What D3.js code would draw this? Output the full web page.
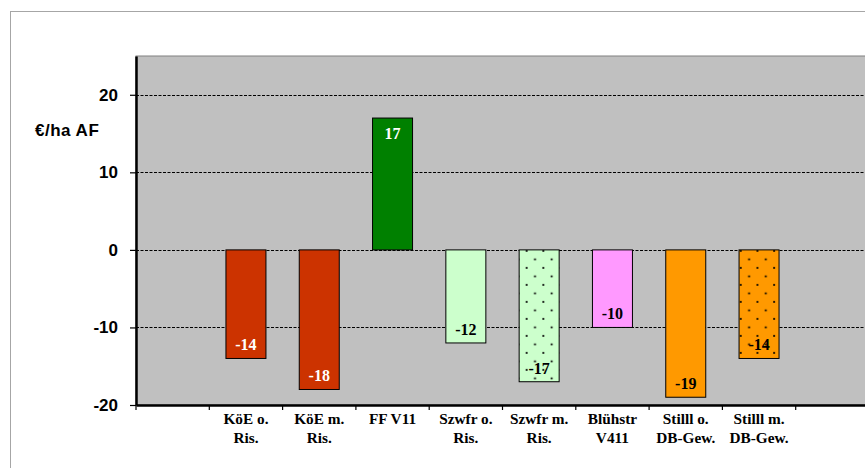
<!DOCTYPE html>
<html>
<head>
<meta charset="utf-8">
<script src="https://cdn.jsdelivr.net/npm/d3@7"></script>
<style>
  html, body { margin: 0; padding: 0; background: #fff; }
  svg { display: block; }
</style>
</head>
<body>
<svg id="chart" width="865" height="468"></svg>
<script>
// ---- data ----
const categories = ["", "KöE o.|Ris.", "KöE m.|Ris.", "FF V11", "Szwfr o.|Ris.", "Szwfr m.|Ris.", "Blühstr|V411", "Stilll o.|DB-Gew.", "Stilll m.|DB-Gew.", " "];
const barCategories = ["KöE o.|Ris.", "KöE m.|Ris.", "FF V11", "Szwfr o.|Ris.", "Szwfr m.|Ris.", "Blühstr|V411", "Stilll o.|DB-Gew.", "Stilll m.|DB-Gew."];
const values = [-14, -18, 17, -12, -17, -10, -19, -14];
const fills = ["#cc3300", "#cc3300", "#008000", "#ccffcc", "#ccffcc", "#ff99ff", "#ff9900", "#ff9900"];
const dotted = [false, false, false, false, true, false, false, true];
const labelColors = ["#fff", "#fff", "#fff", "#000", "#000", "#000", "#000", "#000"];
const yTicks = [-20, -10, 0, 10, 20];
const yDomain = [-20, 25];
const yTitle = "€/ha AF";

// ---- layout ----
const svg = d3.select("#chart");
const plot = { left: 136, right: 869, top: 56, bottom: 405 };

const x = d3.scaleBand().domain(categories).range([plot.left, plot.right]).paddingInner(0).paddingOuter(0);
const y = d3.scaleLinear().domain(yDomain).range([plot.bottom, plot.top]);
const barW = 40;

// outer frame
svg.append("rect").attr("x", 10.5).attr("y", 11.5).attr("width", 900).attr("height", 500)
  .attr("fill", "#fff").attr("stroke", "#a6a6a6").attr("stroke-width", 1);

// plot background
svg.append("rect").attr("x", plot.left).attr("y", plot.top)
  .attr("width", plot.right - plot.left + 10).attr("height", plot.bottom - plot.top)
  .attr("fill", "#c0c0c0").attr("stroke", "#808080").attr("stroke-width", 1);

// patterns
const defs = svg.append("defs");
barCategories.forEach((c, i) => {
  if (!dotted[i]) return;
  const bx = x(c) + (x.bandwidth() - barW) / 2;
  const p = defs.append("pattern").attr("id", "dots" + i)
    .attr("patternUnits", "userSpaceOnUse")
    .attr("x", bx + (i === 4 ? 7.5 : 1.7)).attr("y", y(0) + 1)
    .attr("width", 16.7).attr("height", 17);
  p.append("rect").attr("width", 16.7).attr("height", 17).attr("fill", fills[i]);
  [[0, 0], [8.35, 8.5], [16.7, 0], [0, 17], [16.7, 17]].forEach(([dx, dy]) => {
    p.append("rect").attr("x", dx - 0.9).attr("y", dy - 0.9).attr("width", 1.8).attr("height", 1.8).attr("fill", "#000");
  });
});

// gridlines
svg.append("g").selectAll("line").data(yTicks.filter(t => t > yDomain[0]))
  .join("line")
  .attr("x1", plot.left).attr("x2", plot.right)
  .attr("y1", d => Math.round(y(d)) + 0.5).attr("y2", d => Math.round(y(d)) + 0.5)
  .attr("stroke", "#000").attr("stroke-width", 1).attr("stroke-dasharray", "3,1.5");

// bars
svg.append("g").selectAll("rect").data(values).join("rect")
  .attr("x", (d, i) => x(barCategories[i]) + (x.bandwidth() - barW) / 2)
  .attr("width", barW)
  .attr("y", d => y(Math.max(0, d)))
  .attr("height", d => Math.abs(y(d) - y(0)))
  .attr("fill", (d, i) => dotted[i] ? `url(#dots${i})` : fills[i])
  .attr("stroke", "#000").attr("stroke-width", 1);

// bar labels
svg.append("g").selectAll("text").data(values).join("text")
  .attr("x", (d, i) => x(barCategories[i]) + x.bandwidth() / 2)
  .attr("y", d => d < 0 ? y(d) - 8 : y(d) + 21)
  .attr("text-anchor", "middle")
  .attr("font-family", "'Liberation Serif', 'Times New Roman', serif")
  .attr("font-weight", "bold").attr("font-size", 16)
  .attr("fill", (d, i) => labelColors[i])
  .text(d => String(d));

// y axis
const yAxis = d3.axisLeft(y).tickValues(yTicks).tickSize(6).tickSizeOuter(0).tickPadding(12).tickFormat(d => String(d));
const gy = svg.append("g").attr("transform", `translate(${plot.left},0)`).call(yAxis);
gy.select(".domain").attr("stroke", "#000").attr("stroke-width", 2.5);
gy.selectAll(".tick line").attr("stroke", "#000").attr("stroke-width", 1.2);
gy.selectAll(".tick text")
  .attr("font-family", "'Liberation Sans', Arial, sans-serif")
  .attr("font-weight", "bold").attr("font-size", 17).attr("fill", "#000");

// x axis
const xAxis = d3.axisBottom(x).tickSize(0).tickSizeOuter(0).tickFormat("");
const gx = svg.append("g").attr("transform", `translate(0,${plot.bottom})`).call(xAxis);
gx.select(".domain").attr("stroke", "#000").attr("stroke-width", 2.5);
gx.selectAll(".tick").remove();
const bounds = categories.map(c => x(c));
gx.selectAll(".btick").data(bounds).join("line").attr("class", "btick")
  .attr("x1", d => d).attr("x2", d => d).attr("y1", 0).attr("y2", 5)
  .attr("stroke", "#000").attr("stroke-width", 1.2);

// x labels
const xl = svg.append("g").selectAll("text").data(barCategories).join("text")
  .attr("x", c => x(c) + x.bandwidth() / 2)
  .attr("y", 424)
  .attr("text-anchor", "middle")
  .attr("font-family", "'Liberation Serif', 'Times New Roman', serif")
  .attr("font-weight", "bold").attr("font-size", 15.3).attr("fill", "#000");
xl.each(function(c) {
  const parts = c.split("|");
  const t = d3.select(this);
  parts.forEach((p, k) => {
    t.append("tspan").attr("x", x(c) + x.bandwidth() / 2).attr("dy", k === 0 ? 0 : 18.5).text(p);
  });
});

// y title
svg.append("text").attr("x", 35).attr("y", 136)
  .attr("font-family", "'Liberation Sans', Arial, sans-serif")
  .attr("font-weight", "bold").attr("font-size", 17).attr("letter-spacing", 0.5).attr("fill", "#000")
  .text(yTitle);
</script>
</body>
</html>
